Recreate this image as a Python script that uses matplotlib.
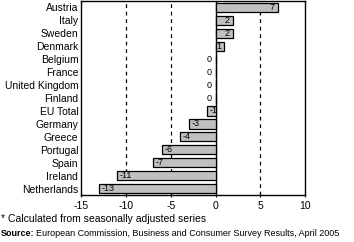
import matplotlib.pyplot as plt

countries = ["Austria", "Italy", "Sweden", "Denmark", "Belgium", "France",
             "United Kingdom", "Finland", "EU Total", "Germany", "Greece",
             "Portugal", "Spain", "Ireland", "Netherlands"]
values = [7, 2, 2, 1, 0, 0, 0, 0, -1, -3, -4, -6, -7, -11, -13]
xticks = [-15, -10, -5, 0, 5, 10]

plt.rcParams['font.family'] = ['Liberation Sans', 'DejaVu Sans']

fig = plt.figure(figsize=(3.54, 2.42), dpi=100)
ax = fig.add_axes([0.229, 0.194, 0.633, 0.802])

y = list(range(len(countries)))
ax.barh(y, values, height=0.72, color="#c0c0c0", edgecolor="black", linewidth=0.9, zorder=3)

# value labels inside the bar ends
for yi, v in zip(y, values):
    if v > 0:
        ax.text(v - 0.4, yi, str(v), ha="right", va="center", fontsize=6.5, zorder=4)
    elif v < 0:
        ax.text(v + 0.3, yi, str(v), ha="left", va="center", fontsize=6.5, zorder=4)
    else:
        ax.text(-0.4, yi, "0", ha="right", va="center", fontsize=6.5, zorder=4)

for g in [-10, -5, 5]:
    ax.axvline(g, color="black", linestyle=(0, (3, 3)), linewidth=0.9, zorder=1)
ax.axvline(0, color="black", linewidth=1.0, zorder=2)

ax.set_xlim(-15, 10)
ax.set_ylim(len(countries) - 0.5, -0.5)
ax.set_xticks(xticks)
ax.set_xticklabels([str(t) for t in xticks], fontsize=7.5)
ax.set_yticks(y)
ax.set_yticklabels(countries, fontsize=7.5)
ax.tick_params(axis="y", length=0, pad=2)
ax.tick_params(axis="x", length=3, direction="inout", pad=3)
for s in ax.spines.values():
    s.set_linewidth(1.0)

fig.text(0.003, 0.095, "* Calculated from seasonally adjusted series", fontsize=7.5, va="center")

# source line: bold lead-in followed by plain text
src = fig.text(0.003, 0.035, "Source:", fontsize=6.5, fontweight="bold", va="center")
fig.canvas.draw()
bb = src.get_window_extent(fig.canvas.get_renderer())
fig.text(bb.x1 / fig.bbox.width + 0.004, 0.035,
         "European Commission, Business and Consumer Survey Results, April 2005",
         fontsize=6.5, va="center")

fig.savefig("out.png", dpi=100)
